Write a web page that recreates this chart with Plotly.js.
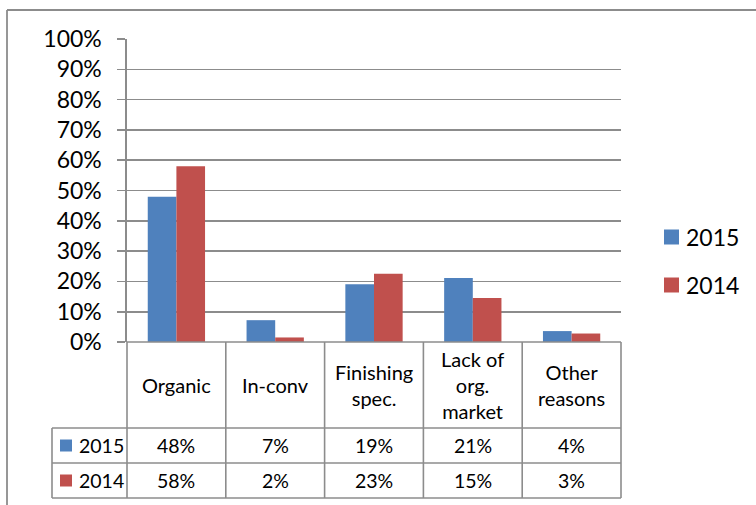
<!DOCTYPE html>
<html><head><meta charset="utf-8">
<script src="https://cdn.plot.ly/plotly-3.0.1.min.js"></script>
<style>html,body{margin:0;padding:0;background:#fff}#chart{width:756px;height:505px}</style>
</head><body><div id="chart"></div>
<script>
// ---- data ----
const categories = ["Organic", "In-conv", "Finishing<br>spec.", "Lack of<br>org.<br>market", "Other<br>reasons"];
const seriesNames = ["2015", "2014"];
const values2015 = [0.479, 0.072, 0.191, 0.211, 0.036];
const values2014 = [0.580, 0.015, 0.225, 0.145, 0.028];
const tableLabels2015 = ["48%", "7%", "19%", "21%", "4%"];
const tableLabels2014 = ["58%", "2%", "23%", "15%", "3%"];
const yTickValues = [0, 0.1, 0.2, 0.3, 0.4, 0.5, 0.6, 0.7, 0.8, 0.9, 1.0];
const yTickLabels = ["0%", "10%", "20%", "30%", "40%", "50%", "60%", "70%", "80%", "90%", "100%"];
const seriesColors = ["#4F81BD", "#C0504D"];

// ---- layout geometry (pixels) ----
const W = 756, H = 505;
const L = 127, R = 621, T = 39, B = 342;
const px = x => (x - L) / (R - L);
const py = y => (B - y) / (B - T);
const gray = "#8c8c8c";
const FONT = "Lato, 'Open Sans', sans-serif";

const xIdx = categories.map((c, i) => i);

const traces = [
  {type: "bar", name: seriesNames[0], x: xIdx, y: values2015, marker: {color: seriesColors[0], line: {width: 0}}, showlegend: false, hoverinfo: "skip"},
  {type: "bar", name: seriesNames[1], x: xIdx, y: values2014, marker: {color: seriesColors[1], line: {width: 0}}, showlegend: false, hoverinfo: "skip"}
];

const shapes = [];
const annotations = [];
const line = (x0, y0, x1, y1, w) => shapes.push({type: "line", xref: "paper", yref: "paper",
  x0: px(x0), y0: py(y0), x1: px(x1), y1: py(y1), line: {color: gray, width: w || 1.6}});

// outer chart border (top and left)
line(7, 10, W, 10, 1.8);
line(7, 10, 7, H, 1.8);

// table grid
const rowTop = B, rowHdr = 428, row1 = 463, row2 = 498, labelLeft = 52;
const colW = (R - L) / categories.length;
for (let i = 0; i <= categories.length; i++) {
  const x = L + i * colW;
  line(x, rowTop, x, row2);
}
line(labelLeft, rowHdr, labelLeft, row2);
line(L, rowTop, R, rowTop);
line(labelLeft, rowHdr, R, rowHdr);
line(labelLeft, row1, R, row1);
line(labelLeft, row2, R, row2);

// category headers
categories.forEach((c, i) => {
  annotations.push({xref: "x", yref: "paper", x: i, y: py((rowTop + rowHdr) / 2), text: c,
    showarrow: false, xanchor: "center", yanchor: "middle", align: "center",
    font: {family: FONT, size: 20, color: "#000"}});
});
// table values
const rows = [[tableLabels2015, (rowHdr + row1) / 2], [tableLabels2014, (row1 + row2) / 2]];
rows.forEach(([labels, yc], r) => {
  labels.forEach((t, i) => annotations.push({xref: "x", yref: "paper", x: i, y: py(yc), text: t,
    showarrow: false, xanchor: "center", yanchor: "middle", font: {family: FONT, size: 19.5, color: "#000"}}));
  // row label key + text
  shapes.push({type: "rect", xref: "paper", yref: "paper", x0: px(60), x1: px(72), y0: py(yc - 6), y1: py(yc + 6),
    fillcolor: seriesColors[r], line: {width: 0}});
  annotations.push({xref: "paper", yref: "paper", x: px(77), y: py(yc), text: seriesNames[r], showarrow: false,
    xanchor: "left", yanchor: "middle", font: {family: FONT, size: 19.5, color: "#000"}});
});

// legend on the right
[[237], [285]].forEach(([yc], r) => {
  shapes.push({type: "rect", xref: "paper", yref: "paper", x0: px(664), x1: px(679), y0: py(yc - 7.5), y1: py(yc + 7.5),
    fillcolor: seriesColors[r], line: {width: 0}});
  annotations.push({xref: "paper", yref: "paper", x: px(684), y: py(yc), text: seriesNames[r], showarrow: false,
    xanchor: "left", yanchor: "middle", font: {family: FONT, size: 23, color: "#000"}});
});

const layout = {
  width: W, height: H,
  margin: {l: L, r: W - R, t: T, b: H - B, pad: 0},
  paper_bgcolor: "#fff", plot_bgcolor: "#fff",
  bargap: 0.42, bargroupgap: 0, barmode: "group",
  showlegend: false,
  font: {family: FONT, color: "#000"},
  xaxis: {range: [-0.5, categories.length - 0.5], showticklabels: false, ticks: "", showgrid: false,
    zeroline: false, showline: false, fixedrange: true},
  yaxis: {range: [0, 1], tickvals: yTickValues, ticktext: yTickLabels, showgrid: true, gridcolor: gray, gridwidth: 1.6,
    ticks: "outside", ticklen: 8, tickcolor: gray, tickwidth: 1.6, showline: true, linecolor: gray, linewidth: 1.6,
    zeroline: false, ticklabelstandoff: 11, tickfont: {family: FONT, size: 23, color: "#000"}, fixedrange: true},
  shapes: shapes,
  annotations: annotations
};

Plotly.newPlot("chart", traces, layout, {staticPlot: true, displayModeBar: false});
</script>
</body></html>
